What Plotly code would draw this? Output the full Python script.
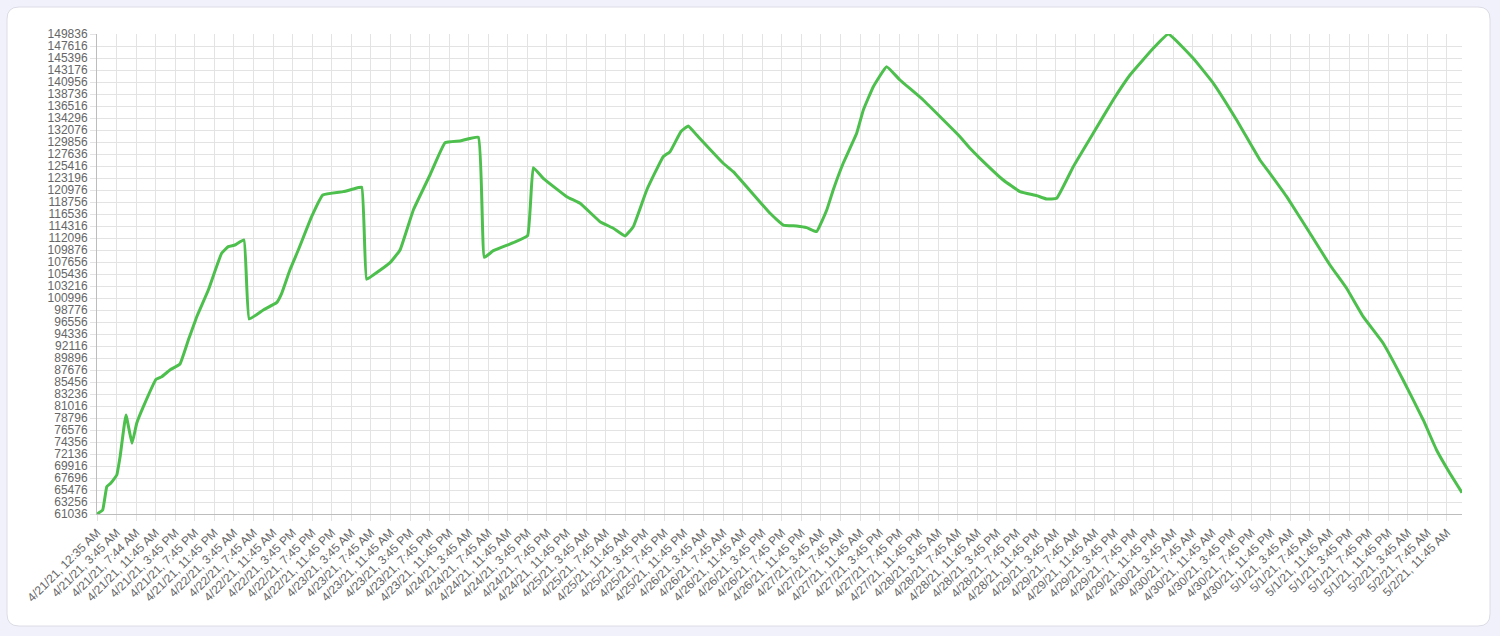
import plotly.graph_objects as go

# x-axis labels (one per gridline, category slots 0..69)
day_labels = ["4/21/21, 12:35 AM", "4/21/21, 3:45 AM", "4/21/21, 7:44 AM", "4/21/21, 11:45 AM",
              "4/21/21, 3:45 PM", "4/21/21, 7:45 PM", "4/21/21, 11:45 PM"]
for d in ["4/22/21", "4/23/21", "4/24/21", "4/25/21", "4/26/21", "4/27/21",
          "4/28/21", "4/29/21", "4/30/21", "5/1/21"]:
    for t in ["3:45 AM", "7:45 AM", "11:45 AM", "3:45 PM", "7:45 PM", "11:45 PM"]:
        day_labels.append(f"{d}, {t}")
day_labels += ["5/2/21, 3:45 AM", "5/2/21, 7:45 AM", "5/2/21, 11:45 AM"]

# position along the category axis (label slots) and value
slot = [0, 0.29, 0.50, 0.70, 1.01, 1.18, 1.48, 1.79, 2.03, 2.37, 3.02, 3.31, 3.73, 4.24,
        4.67, 5.10, 5.69, 6.37, 6.71, 7.05, 7.51, 7.78, 8.50, 9.18, 9.44, 9.86, 10.29,
        10.97, 11.54, 12.59, 13.10, 13.53, 13.78, 14.12, 14.98, 15.49, 16.17, 17.02,
        17.79, 18.55, 19.49, 19.80, 20.26, 21.28, 22.01, 22.30, 22.81, 24.01, 24.69,
        25.71, 26.39, 26.99, 27.41, 28.10, 28.94, 29.29, 29.85, 30.22, 30.65, 32.01,
        32.52, 34.40, 35.08, 35.76, 36.27, 36.78, 37.30, 37.63, 38.14, 38.83, 39.17,
        39.68, 40.36, 41.04, 42.23, 44.11, 44.62, 45.13, 46.32, 47.18, 48.03, 48.54,
        49.05, 49.90, 50.92, 51.94, 52.80, 53.99, 54.76, 56.03, 57.06, 58.25, 59.44,
        59.95, 60.81, 62.00, 63.02, 63.87, 64.72, 65.74, 66.76, 67.79, 68.47, 69.15, 69.77]
values = [61036, 61776, 66090, 66720, 68250, 71640, 79350, 74120, 77820, 80890, 85960,
          86440, 87676, 88790, 93230, 97540, 102480, 109270, 110490, 110800, 111730,
          97110, 98780, 100130, 101870, 106180, 109880, 116040, 120050, 120670, 121160,
          121480, 104460, 105250, 107530, 109880, 117280, 123750, 129730, 130040, 130730,
          108530, 109750, 111230, 112530, 125110, 123140, 119740, 118520, 115120, 113890,
          112470, 114190, 120980, 127140, 128070, 131800, 132820, 131150, 125920, 124370,
          116670, 114500, 114320, 114010, 113270, 117280, 120980, 125920, 131470, 135780,
          140090, 143790, 141330, 137630, 130840, 128690, 126840, 122830, 120670, 119930,
          119310, 119440, 125290, 131470, 137630, 142250, 147190, 149836, 145340, 140720,
          133930, 126530, 124070, 119740, 112970, 107100, 102790, 97540, 92620, 85830,
          78430, 72880, 68570, 64980]

y_min, y_max, y_step = 61036, 149836, 2220

W, H = 1500, 636
ML, MR, MT, MB = 97, 38, 34, 122
pw, ph = W - ML - MR, H - MT - MB

fig = go.Figure()
fig.add_trace(go.Scatter(
    x=slot, y=values, mode="lines",
    line=dict(color="#4cbf4c", width=3, shape="spline", smoothing=0.3),
    showlegend=False, hoverinfo="y"
))

# rounded white card behind the chart
def px_x(p):
    return (p - ML) / pw

def px_y(p):
    return 1 - (p - MT) / ph

x0, x1, y0, y1, r = 7, 1490, 7, 626, 12
card = (f"M {px_x(x0 + r)},{px_y(y0)} L {px_x(x1 - r)},{px_y(y0)} "
        f"Q {px_x(x1)},{px_y(y0)} {px_x(x1)},{px_y(y0 + r)} "
        f"L {px_x(x1)},{px_y(y1 - r)} Q {px_x(x1)},{px_y(y1)} {px_x(x1 - r)},{px_y(y1)} "
        f"L {px_x(x0 + r)},{px_y(y1)} Q {px_x(x0)},{px_y(y1)} {px_x(x0)},{px_y(y1 - r)} "
        f"L {px_x(x0)},{px_y(y0 + r)} Q {px_x(x0)},{px_y(y0)} {px_x(x0 + r)},{px_y(y0)} Z")
fig.add_shape(type="path", path=card, xref="paper", yref="paper", layer="below",
              fillcolor="white", line=dict(color="#dcdce6", width=1))

fig.update_layout(
    width=W, height=H,
    margin=dict(l=ML, r=MR, t=MT, b=MB),
    paper_bgcolor="#f1f1fb",
    plot_bgcolor="white",
    font=dict(family="Liberation Sans, Arial, sans-serif", size=12, color="#666666"),
    xaxis=dict(
        range=[0, slot[-1]],
        tickmode="array", tickvals=list(range(len(day_labels))), ticktext=day_labels,
        tickangle=-45, showgrid=True, gridcolor="#e3e3e3", gridwidth=1,
        ticks="outside", ticklen=6, tickcolor="#e3e3e3",
        showline=True, linecolor="#bdbdbd", linewidth=1, zeroline=False,
    ),
    yaxis=dict(
        range=[y_min, y_max],
        tickmode="linear", tick0=y_min, dtick=y_step,
        showgrid=True, gridcolor="#e3e3e3", gridwidth=1,
        ticks="outside", ticklen=6, tickcolor="#e3e3e3",
        showline=True, linecolor="#bdbdbd", linewidth=1, zeroline=False,
        tickformat="d",
    ),
)

# drop the default page margin so the figure sits at the window's corner
fig.write_html("out.html", config={"displayModeBar": False},
               post_script="document.body.style.margin='0';")
